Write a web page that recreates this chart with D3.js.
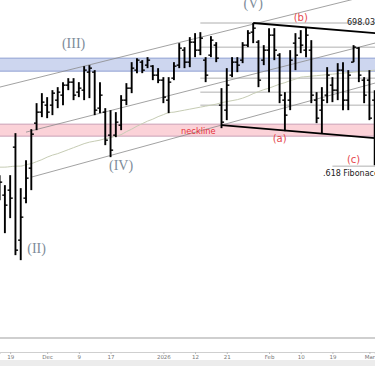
<!DOCTYPE html>
<html><head><meta charset="utf-8">
<script src="https://cdn.jsdelivr.net/npm/d3@7"></script>
<style>html,body{margin:0;padding:0;background:#fff;}svg{display:block;}</style>
</head><body>
<svg id="c" width="375" height="366"></svg>
<script>
const dates = ["2025-11-17","2025-11-18","2025-11-19","2025-11-20","2025-11-21","2025-11-24","2025-11-25","2025-11-26","2025-11-28",
"2025-12-01","2025-12-02","2025-12-03","2025-12-04","2025-12-05","2025-12-08","2025-12-09","2025-12-10","2025-12-11","2025-12-12","2025-12-15","2025-12-16","2025-12-17","2025-12-18","2025-12-19","2025-12-22","2025-12-23","2025-12-24","2025-12-26","2025-12-29","2025-12-30","2025-12-31",
"2026-01-02","2026-01-05","2026-01-06","2026-01-07","2026-01-08","2026-01-09","2026-01-12","2026-01-13","2026-01-14","2026-01-15","2026-01-16","2026-01-20","2026-01-21","2026-01-22","2026-01-23","2026-01-26","2026-01-27","2026-01-28","2026-01-29","2026-01-30",
"2026-02-02","2026-02-03","2026-02-04","2026-02-05","2026-02-06","2026-02-09","2026-02-10","2026-02-11","2026-02-12","2026-02-13","2026-02-17","2026-02-18","2026-02-19","2026-02-20","2026-02-23","2026-02-24","2026-02-25","2026-02-26","2026-02-27",
"2026-03-02","2026-03-03"];
const highs = [667.6,665.6,667.6,676.0,665.0,670.6,676.8,682.0,684.0,
683.2,684.6,685.2,686.2,687.0,687.0,686.2,689.4,689.6,688.6,686.2,681.0,680.6,680.2,683.6,686.0,690.2,691.0,690.6,691.2,689.6,689.0,
687.2,687.2,690.2,694.0,693.2,695.2,696.0,696.2,691.2,695.4,694.2,685.0,689.0,691.2,691.2,694.2,696.6,698.03,694.6,693.6,
697.0,697.0,692.0,684.2,692.6,696.0,696.6,697.2,694.6,684.2,685.2,689.2,687.2,690.0,690.2,688.6,693.6,693.2,687.2,
688.6,684.6];
const lows = [662.6,656.0,659.0,651.6,650.6,662.0,664.6,676.6,679.2,
679.0,679.6,681.0,681.6,684.6,682.6,683.2,682.6,683.0,679.6,680.0,673.6,671.2,675.2,676.6,681.6,684.0,688.0,688.0,689.0,686.6,686.0,
682.0,680.0,686.6,689.0,689.0,689.2,691.2,691.6,686.2,691.2,690.2,677.0,678.6,687.2,688.2,690.0,693.2,694.0,685.2,689.6,
684.2,690.6,682.0,676.4,680.6,688.6,692.0,691.2,682.0,678.0,676.0,682.0,682.2,682.6,680.6,680.6,690.2,686.2,682.0,
678.6,669.6];
const opens = [665.6,663.6,664.6,673.2,654.6,663.0,669.0,678.0,680.2,
681.6,681.6,682.6,683.6,685.6,686.2,684.2,684.6,688.2,688.2,681.0,680.2,675.6,675.6,677.6,682.6,685.0,688.6,690.2,689.6,689.4,687.6,
686.6,682.6,687.0,689.6,692.6,690.2,694.2,692.6,690.6,691.6,693.6,681.6,680.6,687.6,690.2,690.6,693.6,696.2,694.2,690.6,
692.6,695.6,691.6,682.6,682.6,694.0,695.0,692.6,692.6,682.6,680.6,683.6,685.6,684.6,688.6,682.6,690.2,693.0,686.6,
686.6,682.6];
const closes = [666.2,661.6,663.0,652.6,659.2,667.0,675.8,680.2,682.2,
680.2,684.0,684.2,685.6,686.2,683.6,685.0,688.6,689.0,680.6,683.6,674.6,672.6,678.2,682.6,685.0,689.0,690.6,688.6,690.6,687.6,686.6,
683.2,686.2,689.4,693.0,690.2,694.2,692.6,695.0,687.6,694.6,691.0,678.2,685.6,690.2,689.6,693.6,696.0,697.0,686.6,692.6,
695.6,692.6,683.6,679.6,690.6,691.6,693.6,695.6,683.6,679.0,682.6,687.6,684.6,688.6,682.6,687.6,693.2,687.6,683.6,
679.0,670.6];
const ma = [669.2,669.2,669.3,669.4,669.4,669.7,669.9,670.3,670.7,
671.2,671.6,671.9,672.3,672.7,673.1,673.5,673.9,674.2,674.4,674.6,674.9,675.1,675.4,675.7,676.3,676.8,677.4,677.9,678.4,678.8,679.3,
679.7,680.1,680.2,680.4,680.6,680.8,681.0,681.2,681.4,681.6,681.8,682.1,682.3,682.5,682.7,683.0,683.4,683.9,684.3,684.7,
685.0,685.4,685.8,686.1,686.5,686.8,687.2,687.3,687.4,687.5,687.6,687.7,687.8,687.9,688.0,688.1,688.2,688.3,688.4,
688.5,688.6];
const tickDates = ["2025-11-19","2025-12-01","2025-12-09","2025-12-17","2026-01-02","2026-01-12","2026-01-21","2026-02-02","2026-02-10","2026-02-19","2026-03-02"];
const tickLabels = ["19","Dec","9","17","2026","12","21","Feb","10","19","Mar"];
const blueZone = [688.4, 691.0];
const pinkZone = [675.4, 677.8];
const levels = [698.03, 693.2, 687.0, 684.2, 681.6];
const levelStart = "2026-01-13";
const fibLevel = 669.4, fibStart = "2026-02-19";
// channel lines: [startDate, startPrice, endDate, endPrice, extendLeft]
const channels = [
  ["2025-11-17", 685.2, "2026-02-20", 702.0, true],
  ["2025-11-24", 676.2, "2026-03-03", 694.0, false],
  ["2025-11-25", 667.2, "2026-03-03", 686.0, false]
];
const triangle = [
  ["2026-01-28", 698.03, "2026-03-03", 696.0],
  ["2026-01-20", 677.6, "2026-03-03", 675.0]
];
const waveLabels = [
  {t:"(II)", d:"2025-11-26", p:652.0},
  {t:"(III)", d:"2025-12-08", p:693.0},
  {t:"(IV)", d:"2025-12-19", p:668.6},
  {t:"(V)", d:"2026-01-28", p:701.0}
];
const subLabels = [
  {t:"(a)", d:"2026-02-04", p:674.2},
  {t:"(b)", d:"2026-02-10", p:698.4},
  {t:"(c)", d:"2026-02-25", p:670.0}
];

const W = 375, H = 366;
const svg = d3.select("#c");
const x = d3.scalePoint().domain(dates).range([-0.4, 374.7]);
const y = d3.scaleLinear().domain([635.03, 702.63]).range([338, 0]);

svg.append("rect").attr("width", W).attr("height", H).attr("fill", "#fff");

// zones
[[blueZone, "#cdd6ef", "#8e9fd2"], [pinkZone, "#fbd2d8", "#c9a0b6"]].forEach(([z, f, s]) => {
  svg.append("rect").attr("x", 0).attr("width", W)
    .attr("y", y(z[1])).attr("height", y(z[0]) - y(z[1])).attr("fill", f);
  z.forEach(v => svg.append("line").attr("x1", 0).attr("x2", W)
    .attr("y1", y(v)).attr("y2", y(v)).attr("stroke", s).attr("stroke-width", 1));
});

// horizontal levels
levels.forEach(v => svg.append("line").attr("x1", x(levelStart)).attr("x2", W)
  .attr("y1", y(v)).attr("y2", y(v)).attr("stroke", "#9a9a9a").attr("stroke-width", 0.8));
svg.append("line").attr("x1", x(fibStart)).attr("x2", W)
  .attr("y1", y(fibLevel)).attr("y2", y(fibLevel)).attr("stroke", "#9a9a9a").attr("stroke-width", 0.8);

// channels
channels.forEach(([d1, p1, d2, p2, extL]) => {
  const x1 = x(d1), y1 = y(p1), x2 = x(d2), y2 = y(p2);
  const m = (y2 - y1) / (x2 - x1);
  const xs = extL ? 0 : x1, xe = W;
  svg.append("line").attr("x1", xs).attr("y1", y1 + m * (xs - x1))
    .attr("x2", xe).attr("y2", y1 + m * (xe - x1))
    .attr("stroke", "#8a8a8a").attr("stroke-width", 0.8);
});

// moving average
svg.append("path").datum(ma).attr("fill", "none").attr("stroke", "#c6ccb4").attr("stroke-width", 1)
  .attr("d", d3.line().x((d, i) => x(dates[i])).y(d => y(d)).curve(d3.curveMonotoneX));

// OHLC bars
const g = svg.append("g").attr("stroke", "#000");
dates.forEach((d, i) => {
  const cx = x(d);
  g.append("line").attr("x1", cx).attr("x2", cx).attr("y1", y(highs[i])).attr("y2", y(lows[i])).attr("stroke-width", 1.9);
  g.append("line").attr("x1", cx - 2.6).attr("x2", cx).attr("y1", y(opens[i])).attr("y2", y(opens[i])).attr("stroke-width", 1.4);
  g.append("line").attr("x1", cx).attr("x2", cx + 2.6).attr("y1", y(closes[i])).attr("y2", y(closes[i])).attr("stroke-width", 1.4);
});

// triangle lines
triangle.forEach(([d1, p1, d2, p2]) => {
  const x1 = x(d1), y1 = y(p1), x2 = x(d2), y2 = y(p2);
  const m = (y2 - y1) / (x2 - x1);
  svg.append("line").attr("x1", x1).attr("y1", y1).attr("x2", W + 2).attr("y2", y1 + m * (W + 2 - x1))
    .attr("stroke", "#000").attr("stroke-width", 1.8);
});

// labels
waveLabels.forEach(l => svg.append("text").attr("x", x(l.d)).attr("y", y(l.p))
  .attr("text-anchor", "middle").attr("font-family", "Liberation Serif, DejaVu Serif, serif")
  .attr("font-size", 14).attr("fill", "#7e8c9a").text(l.t));
subLabels.forEach(l => svg.append("text").attr("x", x(l.d)).attr("y", y(l.p))
  .attr("text-anchor", "middle").attr("font-family", "DejaVu Sans, sans-serif")
  .attr("font-size", 10).attr("fill", "#e5484d").text(l.t));
svg.append("text").attr("x", 181).attr("y", y(pinkZone[0]) - 2.5)
  .attr("font-family", "DejaVu Sans, sans-serif").attr("font-size", 8.3).attr("fill", "#e5333a").text("neckline");
svg.append("text").attr("x", 347).attr("y", y(levels[0]) + 1.5)
  .attr("font-family", "DejaVu Sans, sans-serif").attr("font-size", 8).attr("fill", "#222").text(levels[0].toFixed(2));
svg.append("text").attr("x", 323).attr("y", y(fibLevel) + 10)
  .attr("font-family", "DejaVu Sans, sans-serif").attr("font-size", 8).attr("fill", "#222").text(".618 Fibonacci");

// bottom frame
svg.append("line").attr("x1", 0).attr("x2", W).attr("y1", 338).attr("y2", 338).attr("stroke", "#cfcfcf").attr("stroke-width", 2);
svg.append("rect").attr("x", 0).attr("y", 360).attr("width", W).attr("height", 6).attr("fill", "#ececec");
const ax = svg.append("g").attr("transform", "translate(0,352)")
  .call(d3.axisBottom(x).tickValues(tickDates).tickFormat((d, i) => tickLabels[i]).tickSize(2).tickPadding(1));
ax.select(".domain").attr("stroke", "#cfcfcf");
ax.selectAll(".tick line").attr("stroke", "#bbb");
ax.selectAll("text").attr("font-size", 5.5).attr("fill", "#777").attr("font-family", "DejaVu Sans, sans-serif");
</script>
</body></html>
